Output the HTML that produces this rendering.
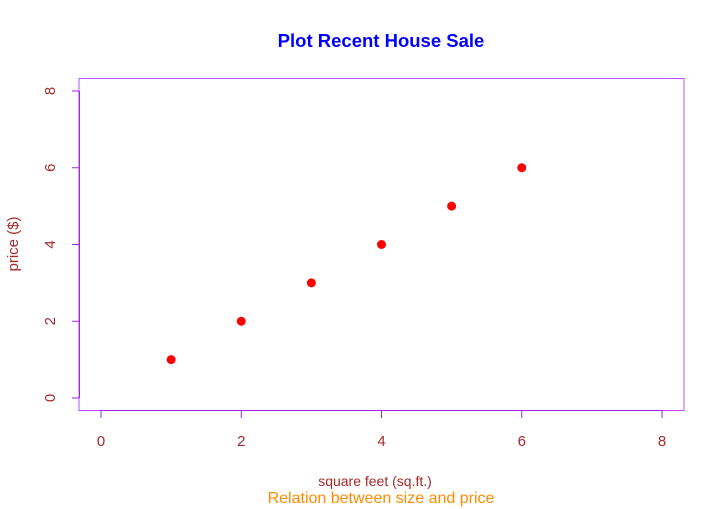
<!DOCTYPE html>
<html><head><meta charset="utf-8"><style>
html,body{margin:0;padding:0;background:#fff;}
svg{display:block;font-family:"Liberation Sans",Arial,sans-serif;}
</style></head><body>
<svg id="chart" width="725" height="509" viewBox="0 0 725 509">
<text x="381" y="47" text-anchor="middle" font-size="18.5" font-weight="bold" fill="#0000ff">Plot Recent House Sale</text>
<rect x="79" y="78.5" width="605" height="332" fill="none" stroke="#b84dff" stroke-width="1"/>
<g id="xaxis"></g>
<g id="yaxis"></g>
<g id="points"></g>
<text x="375" y="486" text-anchor="middle" font-size="14" fill="#a52a2a">square feet (sq.ft.)</text>
<text x="381" y="503" text-anchor="middle" font-size="16" fill="#ff8c00">Relation between size and price</text>
<text transform="translate(18,244) rotate(-90)" text-anchor="middle" font-size="15" fill="#a52a2a">price ($)</text>
</svg>
<script>
const xValues=[1,2,3,4,5,6];
const yValues=[1,2,3,4,5,6];
const xTicks=[0,2,4,6,8];
const yTicks=[0,2,4,6,8];
const NS="http://www.w3.org/2000/svg";
function sx(v){return 101+v*(662-101)/8;}
function sy(v){return 398-v*(398-91)/8;}
function mk(tag,attrs,parent){const e=document.createElementNS(NS,tag);for(const k in attrs)e.setAttribute(k,attrs[k]);parent.appendChild(e);return e;}
const xa=document.getElementById('xaxis'),ya=document.getElementById('yaxis'),pts=document.getElementById('points');
mk('line',{x1:sx(0),x2:sx(8),y1:410.5,y2:410.5,stroke:'#a020f0'},xa);
xTicks.forEach(t=>{
 const l=mk('line',{x1:sx(t),x2:sx(t),y1:410,y2:418,stroke:'#a020f0'},xa);
 
 
 const tx=mk('text',{x:sx(t),y:446,'text-anchor':'middle','font-size':15,fill:'#a52a2a'},xa);
 tx.textContent=t;
 
 
});
mk('line',{x1:79.5,x2:79.5,y1:sy(0),y2:sy(8),stroke:'#a020f0'},ya);
yTicks.forEach(t=>{
 const l=mk('line',{x1:72,x2:79,y1:sy(t),y2:sy(t),stroke:'#a020f0'},ya);
 
 
 const tx=mk('text',{transform:`translate(55,${sy(t)}) rotate(-90)`,'text-anchor':'middle','font-size':15,fill:'#a52a2a'},ya);
 tx.textContent=t;
 
 
});
xValues.forEach((v,i)=>{
 const c=mk('circle',{cx:sx(v),cy:sy(yValues[i]),r:4.5,fill:'#ff0000'},pts);
 
 
});
</script>
</body></html>
